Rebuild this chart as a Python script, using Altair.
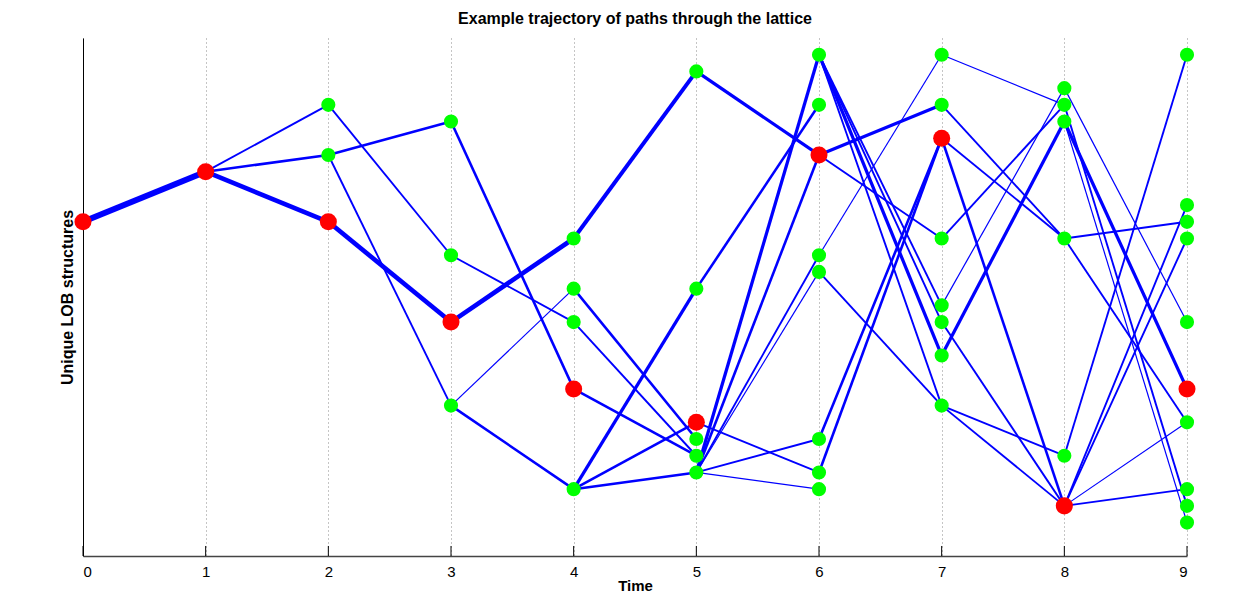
import altair as alt
import pandas as pd

# ---- lattice nodes (time step, structure index) ----
best_t = [0, 1, 2, 3, 4, 5, 6, 7, 8, 9]
best_v = [20, 23, 20, 14, 10, 8, 24, 25, 3, 10]

other_t = [2, 2,
           3, 3, 3,
           4, 4, 4, 4,
           5, 5, 5, 5, 5,
           6, 6, 6, 6, 6, 6, 6,
           7, 7, 7, 7, 7, 7, 7,
           8, 8, 8, 8, 8,
           9, 9, 9, 9, 9, 9, 9, 9, 9]
other_v = [27, 24,
           26, 18, 9,
           19, 16, 14, 4,
           29, 16, 7, 6, 5,
           30, 27, 18, 17, 7, 5, 4,
           30, 27, 19, 15, 14, 12, 9,
           28, 27, 26, 19, 6,
           30, 21, 20, 19, 14, 8, 4, 3, 2]

# ---- transitions: start time, from-structure, to-structure, number of paths ----
edge_t = [0,
          1, 1, 1,
          2, 2, 2, 2,
          3, 3, 3, 3, 3,
          4, 4, 4, 4, 4, 4, 4,
          5, 5, 5, 5, 5, 5, 5, 5, 5,
          6, 6, 6, 6, 6, 6, 6, 6, 6, 6,
          7, 7, 7, 7, 7, 7, 7, 7, 7, 7,
          8, 8, 8, 8, 8, 8, 8, 8, 8, 8, 8]
edge_from = [20,
             23, 23, 23,
             27, 24, 24, 20,
             26, 18, 14, 9, 9,
             19, 16, 14, 10, 4, 4, 4,
             29, 16, 5, 5, 5, 5, 5, 5, 8,
             30, 30, 30, 30, 24, 24, 18, 17, 7, 5,
             30, 27, 25, 25, 19, 15, 14, 12, 9, 9,
             19, 19, 6, 28, 26, 27, 26, 3, 3, 3, 3]
edge_to = [23,
           27, 24, 20,
           18, 26, 9, 14,
           10, 14, 19, 16, 4,
           29, 7, 6, 6, 16, 8, 5,
           24, 27, 30, 24, 18, 17, 7, 4, 5,
           15, 14, 12, 9, 27, 19, 30, 9, 25, 25,
           27, 19, 19, 3, 27, 28, 3, 26, 6, 3,
           20, 8, 30, 14, 10, 3, 2, 21, 19, 8, 4]
edge_n = [8,
          2, 3, 6,
          2, 3, 2, 6,
          3, 2, 6, 1, 3,
          5, 3, 2, 3, 4, 3, 3,
          4, 3, 4, 3, 2, 1, 2, 1, 2,
          2, 2, 4, 2, 4, 2, 1, 2, 3, 3,
          1, 2, 2, 3, 2, 1, 2, 4, 2, 2,
          2, 2, 2, 1, 4, 2, 1, 2, 2, 1, 2]

time_ticks = list(range(10))

edges = pd.DataFrame({
    "t": edge_t,
    "t2": [t + 1 for t in edge_t],
    "v1": edge_from,
    "v2": edge_to,
    "n": edge_n,
})
nodes_best = pd.DataFrame({"t": best_t, "v": best_v})
nodes_other = pd.DataFrame({"t": other_t, "v": other_v})
ticks = pd.DataFrame({"t": time_ticks})

x_scale = alt.Scale(domain=[0, 9], nice=False, zero=False)
y_scale = alt.Scale(domain=[0, 31], nice=False)

x_axis = alt.Axis(
    values=time_ticks, format="d", grid=True, gridDash=[1, 3], gridColor="#8a8a8a",
    gridWidth=1, ticks=False, labelFontSize=15, labelPadding=8, labelColor="#000",
    domainColor="#444", domainWidth=1.5,
    title="Time", titleFontSize=15, titleFontWeight="bold", titleY=29,
    titleBaseline="middle", titleColor="#000",
)
y_axis = alt.Axis(
    labels=False, ticks=False, grid=False, domainColor="#000", domainWidth=1,
    title="Unique LOB structures", titleFontSize=16, titleFontWeight="bold",
    titlePadding=8, titleColor="#000",
)

lines = alt.Chart(edges).mark_rule(color="#0000FF").encode(
    x=alt.X("t:Q", scale=x_scale, axis=x_axis),
    x2="t2:Q",
    y=alt.Y("v1:Q", scale=y_scale, axis=y_axis),
    y2="v2:Q",
    strokeWidth=alt.StrokeWidth("n:Q", scale=alt.Scale(domain=[1, 8], range=[1.2, 6]), legend=None),
)

tick_marks = alt.Chart(ticks).mark_rule(color="#000", strokeWidth=1).encode(
    x=alt.X("t:Q", scale=x_scale),
    y=alt.datum(0),
    y2=alt.datum(0.6),
)

green = alt.Chart(nodes_other).mark_circle(color="#00FF00", opacity=1, size=200).encode(
    x=alt.X("t:Q", scale=x_scale),
    y=alt.Y("v:Q", scale=y_scale),
)
red = alt.Chart(nodes_best).mark_circle(color="#FF0000", opacity=1, size=290).encode(
    x=alt.X("t:Q", scale=x_scale),
    y=alt.Y("v:Q", scale=y_scale),
)

chart = alt.layer(lines, tick_marks, green, red).properties(
    width=1104,
    height=518,
    autosize="none",
    padding={"left": 83, "top": 38, "right": 47, "bottom": 38},
    title=alt.Title("Example trajectory of paths through the lattice", fontSize=16,
                    fontWeight="bold", offset=11, anchor="middle", color="#000"),
).configure(font="Liberation Sans").configure_view(stroke=None)

chart.save("out.html", embed_options={"renderer": "svg", "actions": False})
